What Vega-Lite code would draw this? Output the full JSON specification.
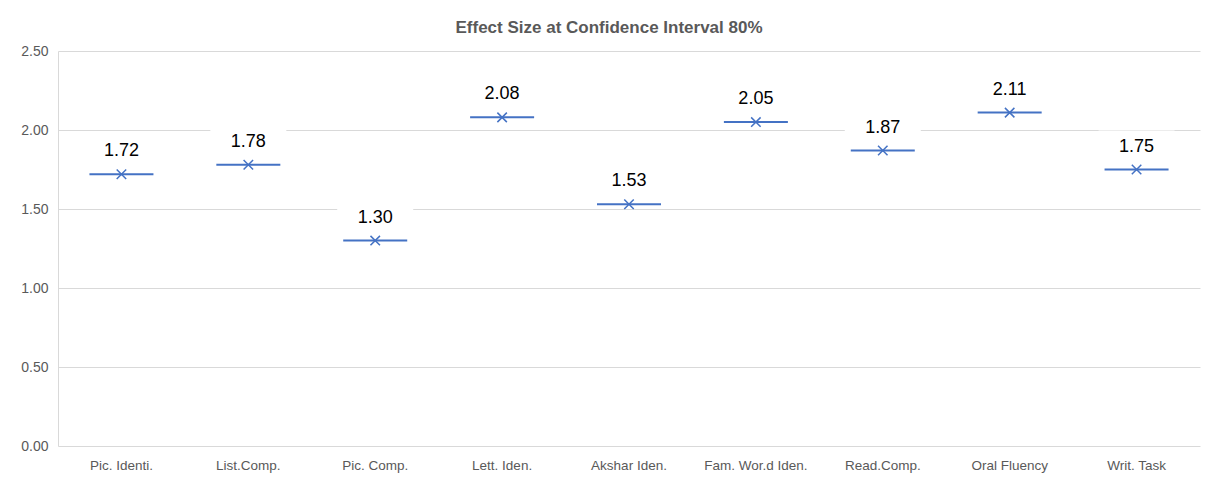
{
  "$schema": "https://vega.github.io/schema/vega-lite/v6.json",
  "width": 1142,
  "height": 395,
  "autosize": {"type": "none"},
  "padding": {"left": 58, "top": 51, "right": 6, "bottom": 35},
  "background": "white",
  "title": {
    "text": "Effect Size at Confidence Interval 80%",
    "anchor": "middle",
    "dx": -20,
    "offset": 7,
    "fontSize": 17,
    "fontWeight": "bold",
    "color": "#595959",
    "font": "Liberation Sans"
  },
  "config": {
    "font": "Liberation Sans",
    "view": {"stroke": null}
  },
  "data": {
    "values": [
      {"test": "Pic. Identi.", "effect": 1.72},
      {"test": "List.Comp.", "effect": 1.78},
      {"test": "Pic. Comp.", "effect": 1.30},
      {"test": "Lett. Iden.", "effect": 2.08},
      {"test": "Akshar Iden.", "effect": 1.53},
      {"test": "Fam. Wor.d Iden.", "effect": 2.05},
      {"test": "Read.Comp.", "effect": 1.87},
      {"test": "Oral Fluency", "effect": 2.11},
      {"test": "Writ. Task", "effect": 1.75}
    ]
  },
  "encoding": {
    "x": {
      "field": "test",
      "type": "nominal",
      "sort": null,
      "scale": {"paddingInner": 0, "paddingOuter": 0},
      "axis": {
        "title": null,
        "labelAngle": 0,
        "labelFontSize": 13.5,
        "labelColor": "#595959",
        "labelPadding": 12,
        "ticks": false,
        "domain": false
      }
    },
    "y": {
      "field": "effect",
      "type": "quantitative",
      "scale": {"domain": [0, 2.5], "nice": false, "zero": true},
      "axis": {
        "title": null,
        "values": [0, 0.5, 1, 1.5, 2, 2.5],
        "format": ".2f",
        "labelFontSize": 14,
        "labelColor": "#595959",
        "labelPadding": 10,
        "ticks": false,
        "domain": true,
        "domainColor": "#d9d9d9",
        "gridColor": "#d9d9d9",
        "gridWidth": 1
      }
    }
  },
  "layer": [
    {
      "mark": {"type": "tick", "color": "white", "opacity": 1, "thickness": 30, "size": 76, "yOffset": -24, "orient": "horizontal"}
    },
    {
      "mark": {"type": "text", "fontSize": 18, "color": "#000000", "yOffset": -23, "baseline": "middle", "align": "center"},
      "encoding": {"text": {"field": "effect", "type": "quantitative", "format": ".2f"}}
    },
    {
      "mark": {"type": "tick", "color": "#4472C4", "opacity": 1, "thickness": 2, "size": 64, "orient": "horizontal"}
    },
    {
      "mark": {"type": "point", "shape": "M-1,-1L1,1M-1,1L1,-1", "filled": false, "stroke": "#4472C4", "strokeWidth": 1.5, "size": 90, "opacity": 1}
    }
  ]
}
